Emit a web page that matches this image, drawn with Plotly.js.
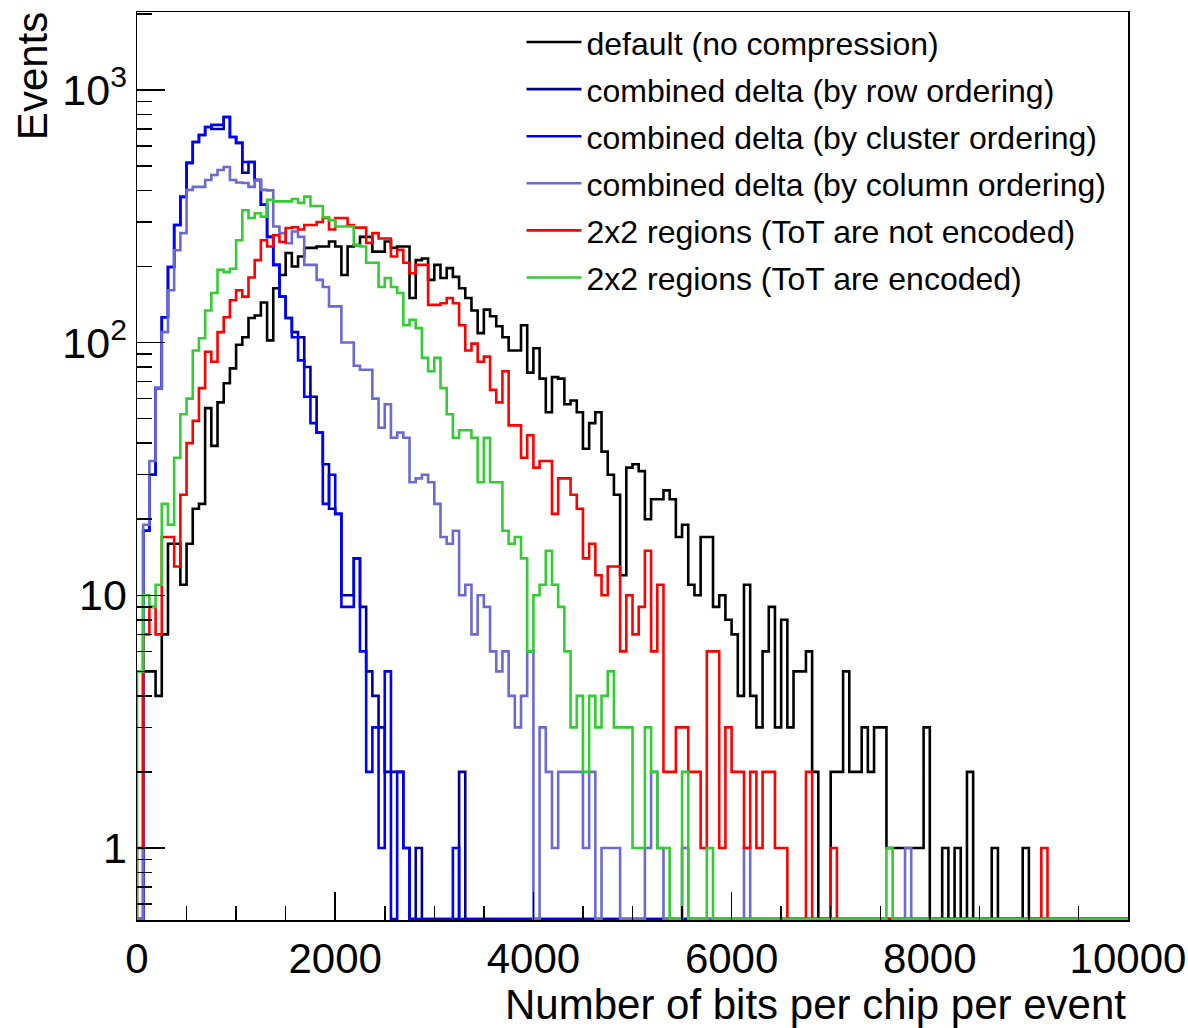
<!DOCTYPE html>
<html>
<head>
<meta charset="utf-8">
<script src="https://cdn.plot.ly/plotly-3.0.1.min.js"></script>
<style>
  html, body { margin: 0; padding: 0; background: #ffffff; }
  #chart { width: 1188px; height: 1028px; }
</style>
</head>
<body>
<div id="chart"></div>
<script>
// Histogram binning: 160 bins from 0 to 10000
const xMin = 0;
const xMax = 10000;
const nBins = 160;

const seriesNames = [
  "default (no compression)",
  "combined delta (by row ordering)",
  "combined delta (by cluster ordering)",
  "combined delta (by column ordering)",
  "2x2 regions (ToT are not encoded)",
  "2x2 regions (ToT are encoded)"
];

// Events per bin
const defaultCounts = [
  0,5,5,4,7,16,16,11,16,22, 23,55,39,58,69,79,98,105,125,128,
  144,102,164,185,226,200,219,237,237,240, 240,251,240,185,240,243,262,262,229,229,
  251,237,240,240,150,212,215,177,203,180, 197,182,164,150,134,109,135,127,116,105,
  93,93,117,76,95,72,53,73,72,57, 59,53,38,48,53,37,30,25,12,32,
  33,31,20,24,24,26,24,17,19,11, 10,17,17,9,10,8,7,4,11,4,
  3,6,9,3,8,3,5,5,6,2, 0,0,2,2,5,2,2,3,2,3,
  3,1,1,1,1,1,1,3,0,0, 1,0,1,0,2,0,0,0,1,0,
  0,0,0,1,0,0,0,0,0,0, 0,0,0,0,0,0,0,0,0,0
];

const rowCounts = [
  0,18,30,66,126,199,292,377,514,622, 663,713,700,700,781,651,617,470,518,440,
  351,262,203,152,125,110,105,80,61,44, 33,22,21,10,10,14,9,5,4,3,
  2,2,2,1,0,1,0,0,0,0, 0,0,2,0,0,0,0,0,0,0,
  0,0,0,0,0,0,0,0,0,0, 0,0,0,0,0,0,0,0,0,0,
  0,0,0,0,0,0,0,0,0,0, 0,0,0,0,0,0,0,0,0,0,
  0,0,0,0,0,0,0,0,0,0, 0,0,0,0,0,0,0,0,0,0,
  0,0,0,0,0,0,0,0,0,0, 0,0,0,0,0,0,0,0,0,0,
  0,0,0,0,0,0,0,0,0,0, 0,0,0,0,0,0,0,0,0,0
];

const clusterCounts = [
  0,18,30,66,126,199,292,377,514,622, 663,713,727,727,781,651,617,518,518,440,
  351,262,203,152,125,105,85,61,48,44, 23,30,21,9,9,14,6,2,3,1,
  5,0,2,1,0,0,0,0,0,0, 0,1,0,0,0,0,0,0,0,0,
  0,0,0,0,0,0,0,0,0,0, 0,0,0,0,0,0,0,0,0,0,
  0,0,0,0,0,0,0,0,0,0, 0,0,0,0,0,0,0,0,0,0,
  0,0,0,0,0,0,0,0,0,0, 0,0,0,0,0,0,0,0,0,0,
  0,0,0,0,0,0,0,0,0,0, 0,0,0,0,0,0,0,0,0,0,
  0,0,0,0,0,0,0,0,0,0, 0,0,0,0,0,0,0,0,0,0
];

const columnCounts = [
  0,19,34,66,110,161,232,271,402,413, 413,440,460,482,495,440,430,428,413,440,
  402,400,288,271,247,275,262,203,203,177, 166,139,139,100,100,81,78,78,60,46,
  57,42,44,42,28,29,30,28,23,17, 16,18,10,11,7,10,9,6,5,6,
  4,3,4,6,0,3,2,1,2,2, 2,2,1,2,0,1,1,1,0,0,
  0,0,1,2,1,0,0,0,1,0, 0,0,0,0,0,0,0,0,1,0,
  0,0,0,0,0,0,0,0,0,0, 0,0,0,0,0,0,0,0,0,0,
  0,0,0,0,1,0,0,0,0,0, 0,0,0,0,0,0,0,0,0,0,
  0,0,0,0,0,0,0,0,0,0, 0,0,0,0,0,0,0,0,0,0
];

const notEncodedCounts = [
  1,7,9,7,17,17,13,25,40,49, 66,92,84,110,126,147,161,152,181,212,
  254,240,266,250,284,286,280,292,292,300, 311,280,311,311,292,285,285,248,271,258,
  258,219,233,207,188,203,203,141,141,143, 150,143,117,93,99,84,88,65,58,77,
  47,47,35,43,32,34,34,21,29,29, 25,22,14,16,12,10,13,13,6,10,
  7,9,15,6,11,2,2,3,3,2, 2,1,6,6,1,3,2,2,1,2,
  1,2,2,1,1,0,0,0,2,0, 0,0,1,0,0,0,0,0,0,0,
  0,0,0,0,0,0,0,0,0,0, 0,0,0,0,0,0,0,0,0,0,
  0,0,0,0,0,0,1,0,0,0, 0,0,0,0,0,0,0,0,0,0
];

const encodedCounts = [
  5,10,9,11,23,19,35,52,60,93, 104,134,157,194,190,196,254,334,311,325,
  315,367,362,362,362,370,357,378,347,347, 313,305,288,288,288,243,240,207,207,166,
  180,166,157,117,123,114,87,77,87,66, 52,42,45,45,42,28,42,28,28,18,
  16,17,14,6,10,11,15,11,9,6, 3,4,2,4,3,4,5,3,3,3,
  1,1,3,2,1,1,0,0,2,0, 0,0,1,0,0,0,0,0,0,0,
  0,0,0,0,0,0,0,0,0,0, 0,0,0,0,0,0,0,0,0,0,
  0,1,0,0,0,0,0,0,0,0, 0,0,0,0,0,0,0,0,0,0,
  0,0,0,0,0,0,0,0,0,0, 0,0,0,0,0,0,0,0,0,0
];

const seriesData = [defaultCounts, rowCounts, clusterCounts, columnCounts, notEncodedCounts, encodedCounts];
const seriesColors = ["#000000", "#000099", "#0000ff", "#6a6ad2", "#ff0000", "#33cc33"];

const xTickVals = [0, 2000, 4000, 6000, 8000, 10000];
const xTickText = ["0", "2000", "4000", "6000", "8000", "10000"];
const xMinorVals = [500,1000,1500,2500,3000,3500,4500,5000,5500,6500,7000,7500,8500,9000,9500];
const yTickVals = [1, 10, 100, 1000];
const yTickText = ["1", "10", "10<sup>2</sup>", "10<sup>3</sup>"];
const yMinorVals = [0.6,0.7,0.8,0.9, 2,3,4,5,6,7,8,9, 20,30,40,50,60,70,80,90, 200,300,400,500,600,700,800,900, 2000];

// log axis range (decades)
const yLogMin = -0.285;
const yLogMax = 3.308;
const floorVal = Math.pow(10, yLogMin + 0.004);

const binW = (xMax - xMin) / nBins;
function stepTrace(counts, name, color) {
  const xs = [xMin];
  const ys = [floorVal];
  for (let i = 0; i < counts.length; i++) {
    xs.push(xMin + i * binW);
    ys.push(counts[i] > 0 ? counts[i] : floorVal);
  }
  xs.push(xMax);
  ys.push(counts[counts.length - 1] > 0 ? counts[counts.length - 1] : floorVal);
  xs.push(xMax);
  ys.push(floorVal);
  return {
    type: "scatter",
    mode: "lines",
    x: xs,
    y: ys,
    name: name,
    legendgroup: name,
    line: { shape: "hv", color: color, width: 2.6 },
    hoverinfo: "skip"
  };
}

const traces = seriesData.map((c, k) => stepTrace(c, seriesNames[k], seriesColors[k]));

const FONT = "Liberation Sans, Helvetica, Arial, sans-serif";

const layout = {
  width: 1188,
  height: 1028,
  paper_bgcolor: "#ffffff",
  plot_bgcolor: "#ffffff",
  margin: { l: 137, r: 60, t: 12, b: 108 },
  font: { family: FONT, color: "#000000" },
  showlegend: true,
  legend: {
    x: 0.388, y: 0.997, xanchor: "left", yanchor: "top",
    bgcolor: "rgba(255,255,255,0)",
    borderwidth: 0,
    font: { family: FONT, size: 32, color: "#000000" },
    tracegroupgap: 2.5,
    itemwidth: 55
  },
  xaxis: {
    type: "linear",
    range: [xMin, xMax],
    tickmode: "array",
    tickvals: xTickVals,
    ticktext: xTickText,
    ticks: "inside",
    ticklen: 28,
    tickwidth: 1.5,
    tickcolor: "#000000",
    minor: { tickmode: "array", tickvals: xMinorVals, ticks: "inside", ticklen: 14, tickwidth: 1.5, tickcolor: "#000000", showgrid: false },
    showline: true,
    mirror: true,
    linecolor: "#000000",
    linewidth: 1.5,
    showgrid: false,
    zeroline: false,
    tickfont: { family: FONT, size: 42, color: "#000000" },
    ticklabeloverflow: "allow",
    ticklabelstandoff: 1
  },
  yaxis: {
    type: "log",
    range: [yLogMin, yLogMax],
    tickmode: "array",
    tickvals: yTickVals,
    ticktext: yTickText,
    ticks: "inside",
    ticklen: 28,
    tickwidth: 1.5,
    tickcolor: "#000000",
    minor: { tickmode: "array", tickvals: yMinorVals, ticks: "inside", ticklen: 15, tickwidth: 1.5, tickcolor: "#000000", showgrid: false },
    showline: true,
    mirror: true,
    linecolor: "#000000",
    linewidth: 1.5,
    showgrid: false,
    zeroline: false,
    tickfont: { family: FONT, size: 43, color: "#000000" },
    ticklabelstandoff: 0
  },
  annotations: [
    {
      text: "Number of bits per chip per event",
      xref: "paper", yref: "paper",
      x: 1.0, y: -0.0935,
      xanchor: "right", yanchor: "middle",
      showarrow: false,
      font: { family: FONT, size: 42, color: "#000000" }
    },
    {
      text: "Events",
      xref: "paper", yref: "paper",
      x: -0.106, y: 1.002,
      xanchor: "center", yanchor: "top",
      textangle: -90,
      showarrow: false,
      font: { family: FONT, size: 42, color: "#000000" }
    }
  ]
};

Plotly.newPlot("chart", traces, layout, { displayModeBar: false, staticPlot: true });
</script>
</body>
</html>
